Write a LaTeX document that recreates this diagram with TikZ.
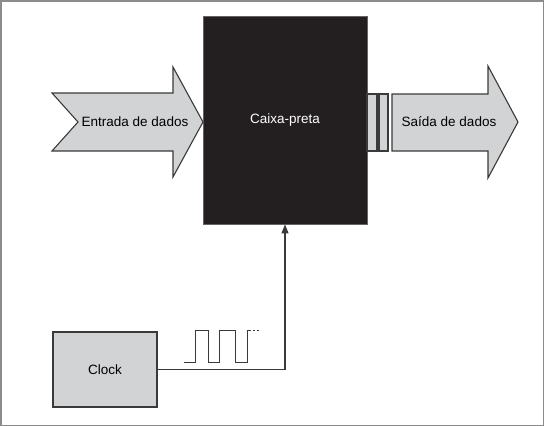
\documentclass[tikz,border=0pt]{standalone}
\usepackage{fontspec}
\setmainfont{Liberation Sans}
\usetikzlibrary{arrows.meta, positioning}
\definecolor{boxblack}{HTML}{231F20}
\definecolor{lgray}{HTML}{D1D3D4}
\definecolor{dkline}{HTML}{3A3A3A}
\definecolor{framegray}{HTML}{8C8C8C}

\begin{document}
\begin{tikzpicture}[
    x=1pt, y=-1pt,
    every node/.style={font=\fontsize{13.5}{16}\selectfont},
    >={Triangle[length=9pt, width=7pt]},
    bigarrow/.style={fill=lgray, draw=dkline, line width=1.1pt, line join=miter},
    blackbox/.style={fill=boxblack, draw=boxblack!70, line width=0.8pt, text=white,
                     minimum width=164pt, minimum height=208pt},
    clockbox/.style={fill=lgray, draw=dkline, line width=1.4pt,
                     minimum width=104pt, minimum height=75pt},
  ]

  % Frame
  \useasboundingbox (0,0) rectangle (544,426);
  \draw[framegray, line width=1.5pt] (0.75,0.75) rectangle (543.25,425.25);

  % === Black box ===
  \node[blackbox] (caixa) at (285,120) {Caixa-preta};

  % === Input arrow (notched tail) ===
  \draw[bigarrow] (52,93) -- (173,93) -- (173,67) -- (203,122)
    -- (173,177) -- (173,151) -- (52,151) -- (78,122) -- cycle;
  \node (entrada) at (135,122) {Entrada de dados};

  % === Output arrow with two bars ===
  \draw[bigarrow] (367,94) rectangle (377,151);
  \draw[bigarrow] (379,94) rectangle (388,151);
  \draw[bigarrow] (392,94) -- (488,94) -- (488,66) -- (518,122)
    -- (488,178) -- (488,151) -- (392,151) -- cycle;
  \node (saida) at (449,122) {Saída de dados};

  % === Clock ===
  \node[clockbox] (clock) at (105,369.5) {Clock};
  \draw[->, dkline, line width=1.1pt] (clock.east) -| (caixa.south);

  % Pulse train
  \draw[dkline, line width=1pt] (184,362) -- (195,362) -- (195,330)
    -- (208,330) -- (208,362) -- (219,362) -- (219,330) -- (235,330)
    -- (235,362) -- (247,362) -- (247,330) -- (251,330);
  \draw[dkline, line width=0.6pt] (253,330) -- (255,330) (256.5,330) -- (258.5,330);

\end{tikzpicture}
\end{document}
